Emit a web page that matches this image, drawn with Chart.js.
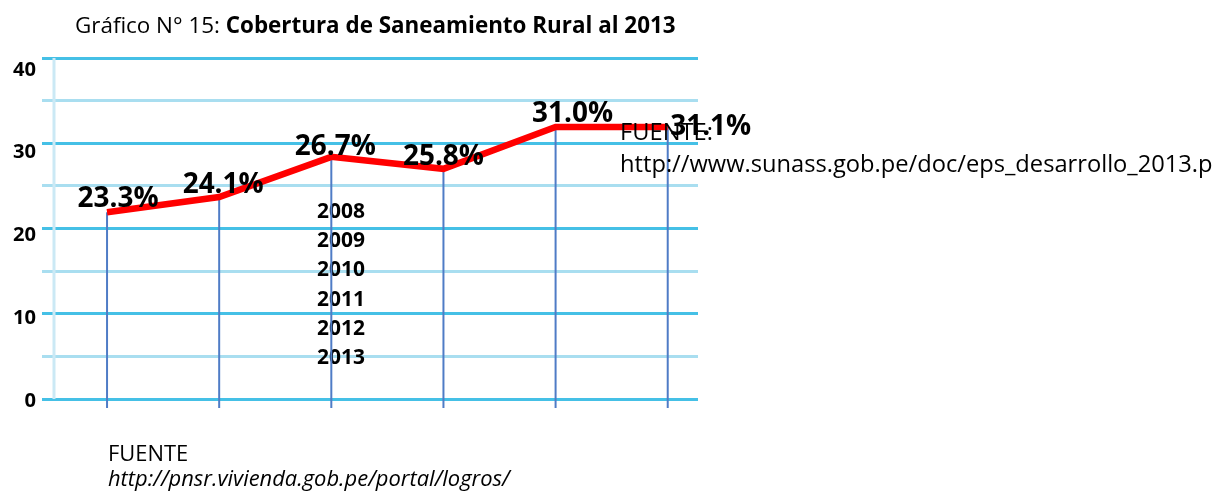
<!DOCTYPE html>
<html>
<head>
<meta charset="utf-8">
<script src="https://cdn.jsdelivr.net/npm/chart.js@4"></script>
<style>
    html, body { margin: 0; padding: 0; background: #fff; }
</style>
</head>
<body>
<canvas id="cobertura" width="1219" height="492"></canvas>
<script>
const years = ['2008', '2009', '2010', '2011', '2012', '2013'];
// where the red line sits in the picture (it does not match the printed labels)
const coverage = [21.9, 23.7, 28.4, 27.0, 31.9, 31.9];
const coverageLabels = ['23.3%', '24.1%', '26.7%', '25.8%', '31.0%', '31.1%'];
const yTicks = [0, 10, 20, 30, 40];

const titleNormal = 'Gráfico N° 15: ';
const titleBold = 'Cobertura de Saneamiento Rural al 2013';
const sourceTop = ['FUENTE:', 'http://www.sunass.gob.pe/doc/eps_desarrollo_2013.p'];
const sourceBottom = ['FUENTE', 'http://pnsr.vivienda.gob.pe/portal/logros/'];

// label nudges from the point (dx, dy of the baseline centre)
const labelShift = [[11, -5], [4, -4], [4, -2], [0, -4], [17, -5], [43, 8]];

const family = '"Open Sans", "Noto Sans", sans-serif';
const measureCtx = document.createElement('canvas').getContext('2d');

// font size that gives a text the width it has in the picture
const fitSize = (text, weight, width, style = 'normal') => {
    measureCtx.font = `${style} ${weight} 100px ${family}`;
    return 100 * width / measureCtx.measureText(text).width;
};

const tickSize = fitSize('40', 'bold', 23);
const labelSize = fitSize('23.3%', 'bold', 81);
const yearSize = fitSize('2008', 'bold', 48);
const topSourceSize = fitSize(sourceTop[1], 'normal', 593);
const bottomSourceSize = fitSize(sourceBottom[1], 'normal', 402, 'italic');

measureCtx.font = `normal 100px ${family}`;
let titleW = measureCtx.measureText(titleNormal).width;
measureCtx.font = `bold 100px ${family}`;
titleW += measureCtx.measureText(titleBold).width;
const titleSize = 100 * 601 / titleW;

const extras = {
    id: 'extras',
    beforeDatasetsDraw(chart) {
        const { ctx, chartArea, scales } = chart;
        ctx.save();

        // faded vertical axis
        ctx.strokeStyle = '#cbe9f5';
        ctx.lineWidth = 3;
        ctx.beginPath();
        ctx.moveTo(chartArea.left + 12, chartArea.top);
        ctx.lineTo(chartArea.left + 12, chartArea.bottom);
        ctx.stroke();

        // year list in the middle of the plot
        ctx.fillStyle = '#000';
        ctx.font = `bold ${yearSize}px ${family}`;
        ctx.textAlign = 'left';
        ctx.textBaseline = 'alphabetic';
        years.forEach((y, i) => {
            ctx.fillText(y, 317, 218 + i * 29.2);
        });

        // drop lines from every point
        ctx.strokeStyle = '#4f7cc6';
        ctx.lineWidth = 2;
        coverage.forEach((v, i) => {
            const x = scales.x.getPixelForValue(i);
            ctx.beginPath();
            ctx.moveTo(x, scales.y.getPixelForValue(v));
            ctx.lineTo(x, chartArea.bottom + 9);
            ctx.stroke();
        });
        ctx.restore();
    },
    afterDatasetsDraw(chart) {
        const { ctx, scales } = chart;
        ctx.save();
        ctx.fillStyle = '#000';
        ctx.font = `bold ${labelSize}px ${family}`;
        ctx.textAlign = 'center';
        ctx.textBaseline = 'alphabetic';
        coverage.forEach((v, i) => {
            const x = scales.x.getPixelForValue(i) + labelShift[i][0];
            const y = scales.y.getPixelForValue(v) + labelShift[i][1];
            ctx.fillText(coverageLabels[i], x, y);
        });
        ctx.restore();
    },
    afterDraw(chart) {
        const { ctx } = chart;
        ctx.save();
        ctx.fillStyle = '#000';
        ctx.textAlign = 'left';
        ctx.textBaseline = 'alphabetic';

        ctx.font = `normal ${titleSize}px ${family}`;
        ctx.fillText(titleNormal, 75, 33);
        const w = ctx.measureText(titleNormal).width;
        ctx.font = `bold ${titleSize}px ${family}`;
        ctx.fillText(titleBold, 75 + w, 33);

        ctx.font = `normal ${topSourceSize}px ${family}`;
        ctx.fillText(sourceTop[0], 620, 140);
        ctx.fillText(sourceTop[1], 620, 172);

        ctx.font = `normal ${bottomSourceSize}px ${family}`;
        ctx.fillText(sourceBottom[0], 108, 461);
        ctx.font = `italic normal ${bottomSourceSize}px ${family}`;
        ctx.fillText(sourceBottom[1], 108, 486);
        ctx.restore();
    }
};

new Chart(document.getElementById('cobertura'), {
    type: 'line',
    data: {
        datasets: [{
            label: 'Cobertura',
            data: coverage.map((v, i) => ({ x: i, y: v })),
            borderColor: '#ff0000',
            borderWidth: 6.5,
            borderCapStyle: 'butt',
            pointRadius: 0,
            tension: 0,
            fill: false
        }]
    },
    options: {
        responsive: false,
        animation: false,
        layout: { padding: { top: 58, right: 521, bottom: 93, left: 0 } },
        plugins: {
            legend: { display: false },
            tooltip: { enabled: false }
        },
        scales: {
            x: {
                type: 'linear',
                min: -0.58,
                max: 5.27,
                display: false
            },
            y: {
                type: 'linear',
                position: 'left',
                min: 0,
                max: 40,
                ticks: { display: false, stepSize: 5 },
                border: { display: false },
                grid: {
                    drawTicks: false,
                    lineWidth: 3,
                    color: c => c.tick.value % 10 === 0 ? '#45c0e6' : '#a9def0'
                },
                afterFit: s => { s.width = 0; }
            },
            // tick labels in the picture are spaced a bit tighter than the grid
            yl: {
                type: 'linear',
                position: 'left',
                bounds: 'data',
                min: 0.24,
                max: 41.45,
                border: { display: false },
                grid: { display: false, drawTicks: false },
                ticks: {
                    padding: 6,
                    color: '#000',
                    font: { family: family, weight: 'bold', size: tickSize }
                },
                afterBuildTicks: s => { s.ticks = yTicks.map(v => ({ value: v })); },
                afterFit: s => { s.width = 42; }
            }
        }
    },
    plugins: [extras]
});
</script>
</body>
</html>
